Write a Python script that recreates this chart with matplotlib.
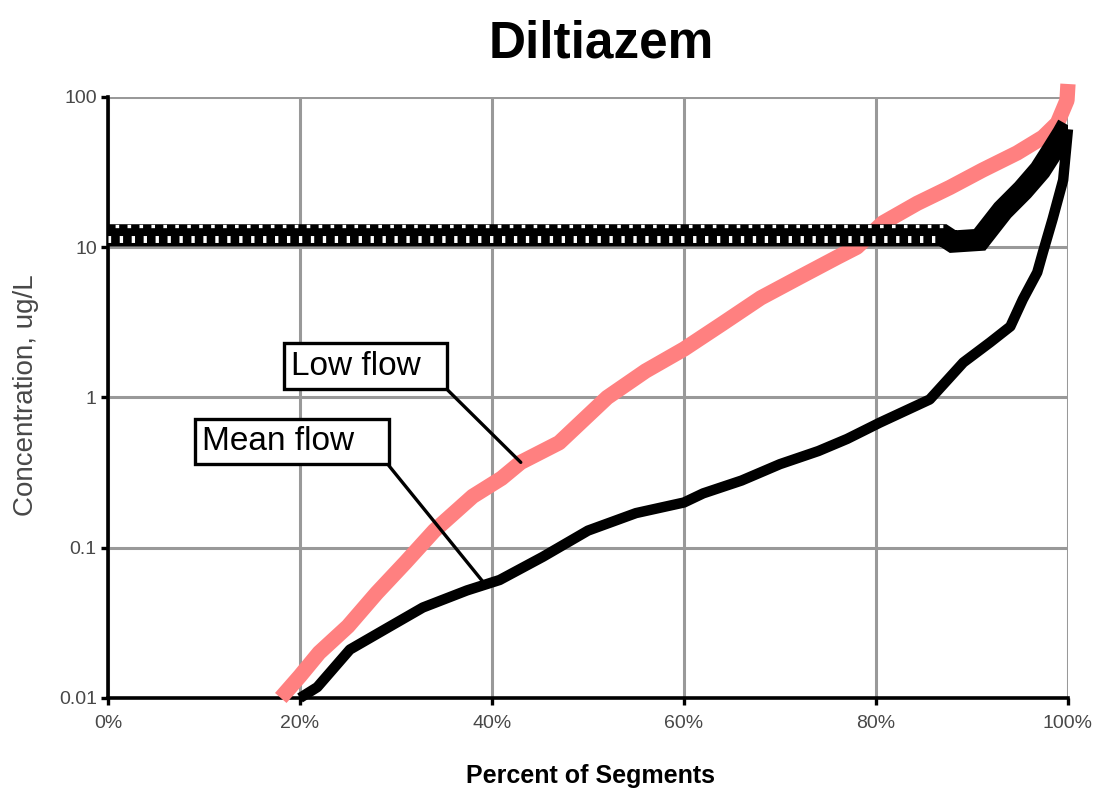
import matplotlib
matplotlib.use("Agg")
import matplotlib.pyplot as plt
import numpy as np
from matplotlib import transforms

plt.rcParams['font.family'] = ['Liberation Sans', 'DejaVu Sans']
plt.rcParams['lines.scale_dashes'] = False

# Percent of segments (x) and concentration in ug/L (y) for each flow case
low_x = [18, 20, 22, 25, 28, 31, 34, 38, 41, 43, 47, 52, 56, 60, 64, 68, 72,
         76, 78, 80.7, 84.3, 87.7, 91.1, 94.7, 97.4, 98.9, 99.9, 100]
low_y = [0.01, 0.014, 0.02, 0.03, 0.05, 0.08, 0.13, 0.22, 0.29, 0.37, 0.5,
         1.0, 1.5, 2.1, 3.1, 4.6, 6.3, 8.6, 10, 14.5, 19.6, 25, 32.6, 42.4,
         54, 67, 95, 122]

mean_x = [20, 21.8, 25.2, 29.4, 32.8, 37.4, 40.8, 45.3, 50, 55, 60, 62, 66,
          70, 74, 77, 80.4, 85.6, 89.1, 91.9, 94, 95.3, 96.8, 97.4, 98.4,
          99.5, 100]
mean_y = [0.01, 0.0118, 0.021, 0.030, 0.040, 0.052, 0.061, 0.087, 0.13, 0.17,
          0.2, 0.23, 0.28, 0.36, 0.44, 0.53, 0.68, 0.97, 1.71, 2.33, 2.97, 4.5,
          6.8, 9.3, 15.4, 28, 61]

# Benchmark level series (patterned band)
band_x = [0, 87, 88, 90.8, 93.2, 95.3, 97.1, 98.4, 99.5, 100]
band_y = [12, 12, 10.9, 11.2, 17.6, 24, 32.6, 44, 57, 65]
band_flat_end = 2  # points drawn with the patterned fill

x_ticks = [0, 20, 40, 60, 80, 100]
x_tick_labels = ['0%', '20%', '40%', '60%', '80%', '100%']
y_ticks = [0.01, 0.1, 1, 10, 100]
y_tick_labels = ['0.01', '0.1', '1', '10', '100']

fig = plt.figure(figsize=(10.94, 7.91), dpi=100)
ax = fig.add_axes([0.0987, 0.1176, 0.8775, 0.7598])

ax.set_yscale('log')
ax.set_xlim(0, 100)
ax.set_ylim(0.01, 100)

ax.grid(True, which='major', color='#999999', lw=2.2)
ax.set_axisbelow(True)
for side in ('top', 'right'):
    ax.spines[side].set_visible(False)
for side in ('left', 'bottom'):
    ax.spines[side].set_linewidth(2.6)
    ax.spines[side].set_color('black')

ax.set_xticks(x_ticks)
ax.set_xticklabels(x_tick_labels)
ax.set_yticks(y_ticks)
ax.set_yticklabels(y_tick_labels)
ax.minorticks_off()
ax.tick_params(axis='both', direction='out', length=5, width=2.4,
               labelsize=14, labelcolor='#484848', color='black')
ax.tick_params(axis='y', pad=3)
ax.tick_params(axis='x', pad=7)

# Low flow (salmon) line
ax.plot(low_x, low_y, color='#ff8080', lw=11, solid_capstyle='butt',
        zorder=3, clip_on=False)

# Benchmark band: solid black body with white pattern on the flat part
ax.plot(band_x, band_y, color='black', lw=16, solid_capstyle='butt',
        solid_joinstyle='miter', zorder=4)
flat_x = band_x[:band_flat_end]
flat_y = band_y[:band_flat_end]
low_off = transforms.offset_copy(ax.transData, fig=fig, x=0, y=-2.6, units='points')
top_off = transforms.offset_copy(ax.transData, fig=fig, x=0, y=6.4, units='points')
ax.plot(flat_x, flat_y, color='white', lw=5, linestyle=(0.5, (2.4, 6.2)),
        dash_capstyle='butt', transform=low_off, zorder=4.5)
ax.plot(flat_x, flat_y, color='white', lw=2.4, linestyle=(3.5, (2.6, 6.0)),
        dash_capstyle='butt', transform=top_off, zorder=4.5)

# Mean flow (black) line
ax.plot(mean_x, mean_y, color='black', lw=7.5, solid_capstyle='butt',
        zorder=5, clip_on=False)

# Callouts
low_idx = low_x.index(43)
ax.annotate('Low flow  ', xy=(low_x[low_idx], low_y[low_idx]),
            xytext=(0.266, 0.537), textcoords='figure fraction',
            fontsize=24, ha='left', va='center', color='black',
            bbox=dict(boxstyle='square,pad=0.22', fc='white', ec='black', lw=2.4),
            arrowprops=dict(arrowstyle='-', color='black', lw=2.4,
                            relpos=(1, 0), shrinkA=0, shrinkB=0),
            zorder=6)
mean_target = 39.3
mean_at = 10 ** np.interp(mean_target, mean_x, np.log10(mean_y))
ax.annotate('Mean flow   ', xy=(mean_target, mean_at),
            xytext=(0.1846, 0.4419), textcoords='figure fraction',
            fontsize=24, ha='left', va='center', color='black',
            bbox=dict(boxstyle='square,pad=0.22', fc='white', ec='black', lw=2.4),
            arrowprops=dict(arrowstyle='-', color='black', lw=2.4,
                            relpos=(1, 0), shrinkA=0, shrinkB=0),
            zorder=6)

fig.text(0.550, 0.9267, 'Diltiazem', fontsize=37, fontweight='bold',
         ha='center', va='baseline')
fig.text(0.540, 0.010, 'Percent of Segments', fontsize=18, fontweight='bold',
         ha='center', va='baseline')
fig.text(0.024, 0.500, 'Concentration, ug/L', fontsize=20, color='#484848',
         rotation=90, ha='center', va='center')

fig.savefig('out.png', dpi=100)
